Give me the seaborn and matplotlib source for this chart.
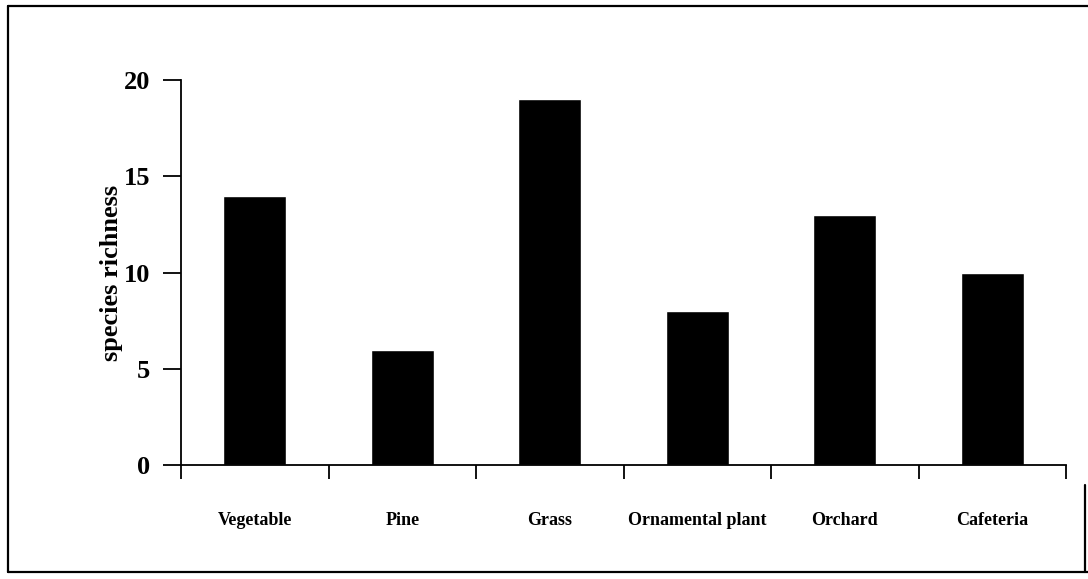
import pandas as pd
import matplotlib
matplotlib.use("Agg")
import matplotlib.pyplot as plt
import seaborn as sns
from matplotlib.lines import Line2D

# Data
habitats = ["Vegetable", "Pine", "Grass", "Ornamental plant", "Orchard", "Cafeteria"]
richness = [14, 6, 19, 8, 13, 10]
y_ticks = [0, 5, 10, 15, 20]

sns.set_theme(style="white")
plt.rcParams["font.family"] = ["Liberation Serif", "DejaVu Serif"]
plt.rcParams["text.color"] = "black"
plt.rcParams["xtick.color"] = "black"
plt.rcParams["ytick.color"] = "black"
plt.rcParams["axes.labelcolor"] = "black"

df = pd.DataFrame({"Habitat": habitats, "Richness": richness})

fig = plt.figure(figsize=(10.88, 5.79), dpi=100)
ax = fig.add_axes([181 / 1088, 114 / 579, (1066 - 181) / 1088, (465 - 80) / 579])

sns.barplot(data=df, x="Habitat", y="Richness", color="black", width=0.43,
            saturation=1, ax=ax)

ax.set_xlim(-0.5, len(habitats) - 0.5)
ax.set_ylim(0, 20)

# y axis
ax.set_yticks(y_ticks)
ax.set_yticklabels([str(t) for t in y_ticks], fontsize=19, fontweight="bold")
ax.tick_params(axis="y", direction="out", length=13, width=1.3, color="black",
               pad=9, left=True)
ax.set_ylabel("species richness", fontsize=19, fontweight="bold", labelpad=1)

# x axis: ticks between categories, labels at centres
ax.set_xticks([i - 0.5 for i in range(len(habitats) + 1)])
ax.set_xticklabels([])
ax.tick_params(axis="x", which="major", direction="out", length=10, width=1.3,
               color="black", bottom=True)
ax.set_xticks(range(len(habitats)), minor=True)
ax.set_xticklabels(habitats, minor=True, fontsize=13, fontweight="bold")
ax.tick_params(axis="x", which="minor", length=0, pad=34)
ax.set_xlabel("")

for side in ["top", "right"]:
    ax.spines[side].set_visible(False)
for side in ["left", "bottom"]:
    ax.spines[side].set_color("black")
    ax.spines[side].set_linewidth(1.3)

# frame around the figure
W, H = 1088, 579
frame = dict(color="black", linewidth=1.6, transform=fig.transFigure)
fig.add_artist(Line2D([8 / W, 8 / W], [1 - 6 / H, 1 - 572 / H], **frame))
fig.add_artist(Line2D([8 / W, 1.0], [1 - 6 / H, 1 - 6 / H], **frame))
fig.add_artist(Line2D([8 / W, 1.0], [1 - 572 / H, 1 - 572 / H], **frame))
fig.add_artist(Line2D([1085 / W, 1085 / W], [1 - 485 / H, 1 - 572 / H], **frame))

fig.savefig("out.png", dpi=100)
